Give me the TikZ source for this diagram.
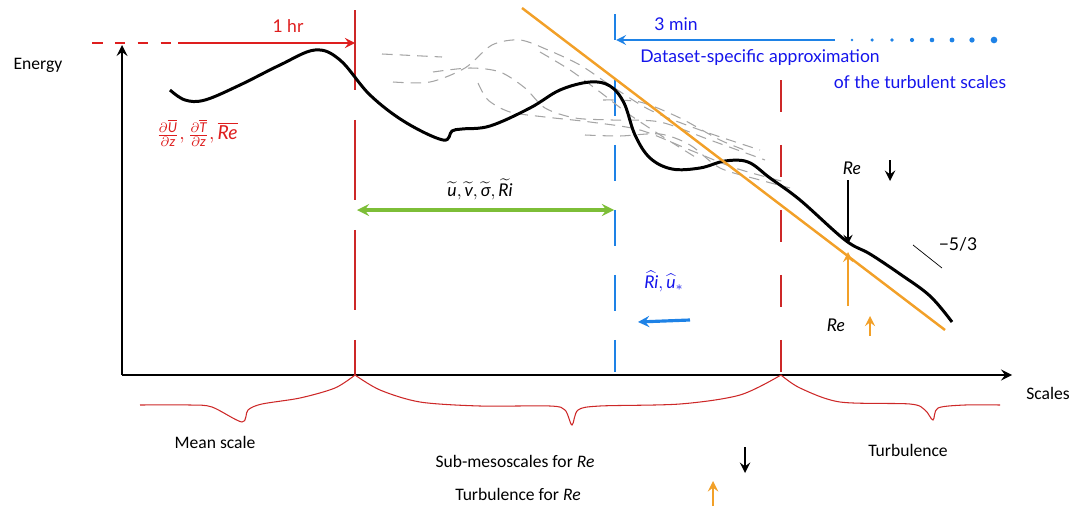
\documentclass[tikz,border=0pt]{standalone}
\usepackage{fontspec}
\setmainfont{Lato}
\newfontfamily\calfont{Carlito}
\usepackage{amsmath}
\usepackage{xcolor}
\usepackage{tikz}
\usetikzlibrary{arrows, positioning, calc}
\definecolor{hourred}{RGB}{222, 30, 30}
\definecolor{scalered}{RGB}{205, 40, 40}
\definecolor{minblue}{RGB}{30, 130, 230}
\definecolor{textblue}{RGB}{20, 20, 235}
\definecolor{slopeorange}{RGB}{242, 160, 40}
\definecolor{filtergreen}{RGB}{125, 190, 55}
\definecolor{ensgray}{RGB}{165, 165, 165}
\newcommand{\ti}[1]{\textit{#1}}
\tikzset{callabel/.style={font=\calfont}}

\begin{document}
\begin{tikzpicture}[x=0.02cm, y=-0.02cm]
    \useasboundingbox (0,0) rectangle (1075,507);
    % AXES
    \draw[-stealth, line width=1.7pt] (122,375) -- (122,45);
    \draw[-stealth, line width=1.7pt] (122,375) -- (1012,375);
    \node[callabel] (energy) at (38,65) {Energy};
    \node[callabel] (scales) at (1048,393) {Scales};
    % 1 HR (mean scale limit)
    \draw[hourred, line width=1.5pt, dash pattern=on 6pt off 7pt] (92,43) -- (178,43);
    \draw[-stealth, hourred, line width=1.5pt] (178,43) -- (355,43);
    \node[hourred] (hour) at (288,26) {1 hr};
    \draw[scalered, line width=0.65pt, dash pattern=on 1.6cm off 0.6cm] (355,10) -- (355,375);
    \draw[scalered, line width=0.65pt, dash pattern=on 0.65cm off 0.65cm] (781,80) -- (781,375);
    % 3 MIN (dataset-specific)
    \draw[minblue, line width=1.5pt] (615,14) -- (615,40);
    \draw[-stealth, minblue, line width=1.5pt] (835,40) -- (616,40);
    \foreach \px/\pr in {852/0.8, 872/1.0, 892/1.1, 912/1.2, 932/1.3, 952/1.4, 972/1.5, 994/1.9}
        \fill[minblue] (\px,40) circle (\pr pt);
    \node[textblue] (min) at (676,24) {3 min};
    \node[textblue] (dataset) at (760,58) {Dataset-specific approximation};
    \node[textblue] (turbscales) at (920,82) {of the turbulent scales};
    \draw[minblue, line width=1.5pt, dash pattern=on 0.72cm off 0.58cm] (615,80) -- (615,372);
    % ENSEMBLE (gray dashed)
    \begin{scope}[ensgray, line width=0.6pt, dash pattern=on 6pt off 4pt]
        \draw (382,54) -- (442,57);
        \draw plot[smooth] coordinates {(393,82) (430,82) (465,68) (492,45) (520,40) (548,50) (580,65) (610,85) (650,110) (700,130) (760,150)};
        \draw plot[smooth] coordinates {(433,72) (470,68) (500,72) (525,88) (545,108) (575,118) (612,120) (660,122) (710,140) (765,160)};
        \draw plot[smooth] coordinates {(478,83) (488,100) (510,112) (545,117) (590,122) (640,130) (690,150) (735,168) (785,182)};
        \draw plot[smooth] coordinates {(585,135) (620,136) (660,134) (690,145) (720,168) (760,180) (790,188)};
        \draw plot[smooth] coordinates {(603,100) (640,102) (680,118) (720,140) (750,152)};
        \draw plot[smooth] coordinates {(540,52) (570,70) (600,92) (630,115) (668,140) (700,160)};
    \end{scope}
    % SPECTRUM (black)
    \draw[line width=1.7pt] plot[smooth, tension=0.6] coordinates {(170,90) (185,100) (205,100) (240,85) (280,65) (315,50) (340,60) (370,95) (405,122) (443,140) (452,131) (462,129) (490,126) (530,108) (560,90) (590,82) (610,86) (624,103) (635,135) (650,158) (672,169) (700,168) (725,161) (748,162) (770,178) (800,200) (845,240) (870,254) (900,274) (930,296) (952,322)};
    % -5/3 SLOPE
    \draw[slopeorange, line width=1.4pt] (522,8) -- (945,330);
    \draw[thin] (913,245) -- (942,268);
    \node (slope) at (958,244) {−5/3};
    % FILTER (green)
    \draw[stealth-stealth, filtergreen, line width=2pt] (357,210) -- (614,210);
    \node (tilde) at (480,189) {$\widetilde{\ti{u}}, \widetilde{\ti{v}}, \widetilde{\ti{σ}}, \widetilde{\ti{Ri}}$};
    \node[textblue] (hat) at (664,281) {$\widehat{\ti{Ri}}, \widehat{\ti{u}}_{*}$};
    \draw[-stealth, minblue, line width=1.8pt] (690,320) -- (638,322);
    \node[hourred, scale=1.1] (mean) at (197,133) {$\frac{\partial\overline{\ti{U}}}{\partial \ti{z}}, \frac{\partial\overline{\ti{T}}}{\partial \ti{z}}, \overline{\ti{Re}}$};
    % Re ARROWS
    \node (redown) at (852,168) {\ti{Re}};
    \draw[-stealth, line width=1.3pt] (848,180) -- (848,244);
    \draw[-stealth, line width=1.6pt] (890,160) -- (890,181);
    \node (reup) at (836,325) {\ti{Re}};
    \draw[-stealth, slopeorange, line width=1.5pt] (848,306) -- (848,252);
    \draw[-stealth, slopeorange, line width=1.5pt] (870,336) -- (870,316);
    % BRACES
    \begin{scope}[scalered, line width=0.6pt]
        \draw plot[smooth, tension=0.5] coordinates {(140,405) (190,405) (212,407) (242,422) (248,410) (262,404) (300,398) (335,388) (355,375)};
        \draw plot[smooth, tension=0.5] coordinates {(355,375) (380,390) (420,402) (480,406) (550,406) (565,410) (572,425) (578,410) (600,406) (680,404) (740,395) (781,375)};
        \draw plot[smooth, tension=0.5] coordinates {(781,375) (800,388) (840,402) (910,404) (925,410) (933,420) (938,408) (965,405) (1000,405)};
    \end{scope}
    \node[callabel] (meanscale) at (215,442) {Mean scale};
    \node[callabel] (turb) at (908,450) {Turbulence};
    \node[callabel] (submeso) at (515,461) {Sub-mesoscales for \ti{Re}};
    \node[callabel] (turbre) at (518,494) {Turbulence for \ti{Re}};
    \draw[-stealth, line width=1.6pt] (745,447) -- (745,473);
    \draw[-stealth, slopeorange, line width=1.6pt] (713,506) -- (713,481);
\end{tikzpicture}
\end{document}
